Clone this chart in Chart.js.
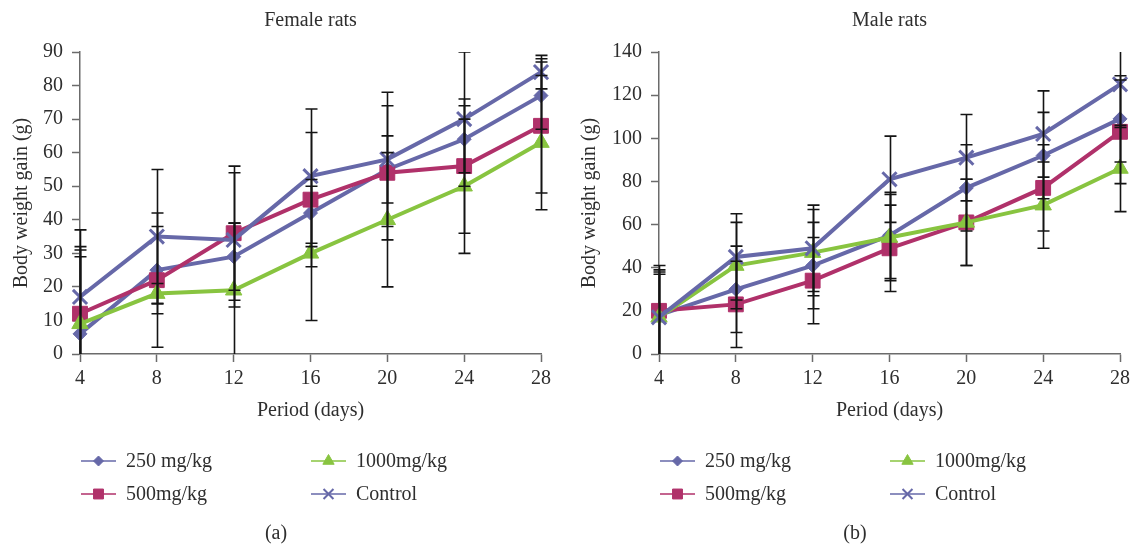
<!DOCTYPE html>
<html>
<head>
<meta charset="utf-8">
<script src="https://cdn.jsdelivr.net/npm/chart.js@4/dist/chart.umd.min.js"></script>
<style>
body{margin:0;background:#fff;width:1133px;height:546px;overflow:hidden;position:relative}
.box{position:absolute;top:0;height:546px}
</style>
</head>
<body>
<div class="box" style="left:0;width:566px"><canvas id="chartFemale" width="566" height="546"></canvas></div>
<div class="box" style="left:566px;width:570px"><canvas id="chartMale" width="570" height="546"></canvas></div>
<script>
const days=["4","8","12","16","20","24","28"];
const seriesNames=["250 mg/kg","500mg/kg","1000mg/kg","Control"];

const female250=[6,25,29,42,55,64,77];
const female500=[12,22,36,46,54,56,68];
const female1000=[9,18,19,30,40,50,63];
const femaleControl=[17,35,34,53,58,70,84];

const femaleSd250=[25,13,10,10,10,10,10];
const femaleSd500=[20,20,20,20,20,20,20];
const femaleSd1000=[20,3,20,20,20,20,20];
const femaleSdControl=[20,20,20,20,20,20,5];

const male250=[18,30,41,55,77,92,109];
const male500=[20,23,34,49,61,77,103];
const male1000=[17,41,47,54,61,69,86];
const maleControl=[17,45,49,81,91,102,125];

const maleSd250=[20,20,20,20,20,20,20];
const maleSd500=[21,20,20,20,20,20,24];
const maleSd1000=[22,20,20,20,20,20,20];
const maleSdControl=[20,20,20,20,20,20,20];

const FONT="'Liberation Serif', 'DejaVu Serif', serif";
const TEXT="#2e2e2e";
const AXIS="#6b6b6b";

// look of each series: 250, 500, 1000, control
const styles=[
{color:"#6668a8",point:"rectRot",radius:7,legendRadius:5,order:4},
{color:"#b0316a",point:"rect",radius:10.5,legendRadius:7,order:3},
{color:"#88c440",point:"triangle",radius:9.5,legendRadius:6.5,order:2},
{color:"#6668a8",point:"crossRot",radius:10,legendRadius:7,order:1}
];
// legend slot [column,row] of each series
const legendSlots=[[0,0],[0,1],[1,0],[1,1]];

const errorBars={
id:"errorBars",
afterDatasetsDraw(chart){
const {ctx,chartArea,scales:{x,y}}=chart;
ctx.save();
ctx.beginPath();
ctx.rect(chartArea.left-20,chartArea.top,chartArea.width+40,chartArea.height);
ctx.clip();
ctx.strokeStyle="#141414";
ctx.lineWidth=1.6;
chart.data.datasets.forEach(ds=>{
ds.sd.forEach((e,i)=>{
const px=Math.round(x.getPixelForValue(i))+0.5;
const top=y.getPixelForValue(ds.data[i]+e);
const bot=y.getPixelForValue(ds.data[i]-e);
ctx.beginPath();
ctx.moveTo(px,top);ctx.lineTo(px,bot);
ctx.moveTo(px-6,top);ctx.lineTo(px+6,top);
ctx.moveTo(px-6,bot);ctx.lineTo(px+6,bot);
ctx.stroke();
});
});
ctx.restore();
}
};

const legendBox={
id:"legendBox",
afterDraw(chart,args,opts){
const {ctx,chartArea}=chart;
const colX=[0,230];
const rowY=[461,494];
ctx.save();
chart.data.datasets.forEach((ds,i)=>{
const [c,r]=legendSlots[i];
const st=styles[i];
const x0=chartArea.left+colX[c]+1;
const y0=rowY[r];
ctx.strokeStyle=st.color;
ctx.lineWidth=1.6;
ctx.beginPath();
ctx.moveTo(x0,y0);ctx.lineTo(x0+35,y0);
ctx.stroke();
ctx.fillStyle=st.color;
ctx.lineWidth=st.point==="crossRot"?2:1;
Chart.helpers.drawPoint(ctx,{pointStyle:st.point,radius:st.legendRadius,rotation:0,borderWidth:ctx.lineWidth},x0+17.5,y0);
ctx.fillStyle=TEXT;
ctx.font="20px "+FONT;
ctx.textBaseline="middle";
ctx.textAlign="left";
ctx.fillText(ds.label,x0+45,y0+1);
});
ctx.textAlign="center";
ctx.fillText(opts.caption,chartArea.left+196,534);
ctx.restore();
}
};

function makeChart(id,title,caption,yMax,yStep,yAxisWidth,yTitlePad,rightPad,values,sds){
new Chart(document.getElementById(id),{
type:"line",
data:{
labels:days,
datasets:values.map((v,i)=>({
label:seriesNames[i],
data:v,
sd:sds[i],
order:styles[i].order,
borderColor:styles[i].color,
backgroundColor:styles[i].color,
pointBackgroundColor:styles[i].color,
pointBorderColor:styles[i].color,
borderWidth:4,
pointStyle:styles[i].point,
pointRadius:styles[i].radius,
pointBorderWidth:styles[i].point==="crossRot"?3:1,
tension:0,
clip:false
}))
},
options:{
responsive:false,
animation:false,
events:[],
layout:{padding:{left:0,right:rightPad,top:0,bottom:122}},
plugins:{
legend:{display:false},
tooltip:{enabled:false},
title:{display:true,text:title,fullSize:false,color:TEXT,
font:{family:FONT,size:20,weight:"normal"},padding:{top:9,bottom:19}},
legendBox:{caption:caption}
},
scales:{
x:{
type:"category",
offset:false,
grid:{drawOnChartArea:false,drawTicks:true,tickLength:8,tickColor:AXIS,tickWidth:1.5},
border:{color:AXIS,width:1.5},
ticks:{color:TEXT,font:{family:FONT,size:20},padding:5,maxRotation:0},
title:{display:true,text:"Period (days)",color:TEXT,font:{family:FONT,size:20},padding:{top:0,bottom:1}},
afterFit(s){s.height=70;}
},
y:{
min:0,max:yMax,
grid:{drawOnChartArea:false,drawTicks:true,tickLength:8,tickColor:AXIS,tickWidth:1.5},
border:{color:AXIS,width:1.5},
ticks:{stepSize:yStep,color:TEXT,font:{family:FONT,size:20},padding:9},
title:{display:true,text:"Body weight gain (g)",color:TEXT,font:{family:FONT,size:20},padding:{top:yTitlePad,bottom:0}},
afterFit(s){s.width=yAxisWidth;}
}
}
},
plugins:[errorBars,legendBox]
});
}

makeChart("chartFemale","Female rats","(a)",90,10,80,10,25,
[female250,female500,female1000,femaleControl],
[femaleSd250,femaleSd500,femaleSd1000,femaleSdControl]);

makeChart("chartMale","Male rats","(b)",140,20,93,12,16,
[male250,male500,male1000,maleControl],
[maleSd250,maleSd500,maleSd1000,maleSdControl]);
</script>
</body>
</html>
